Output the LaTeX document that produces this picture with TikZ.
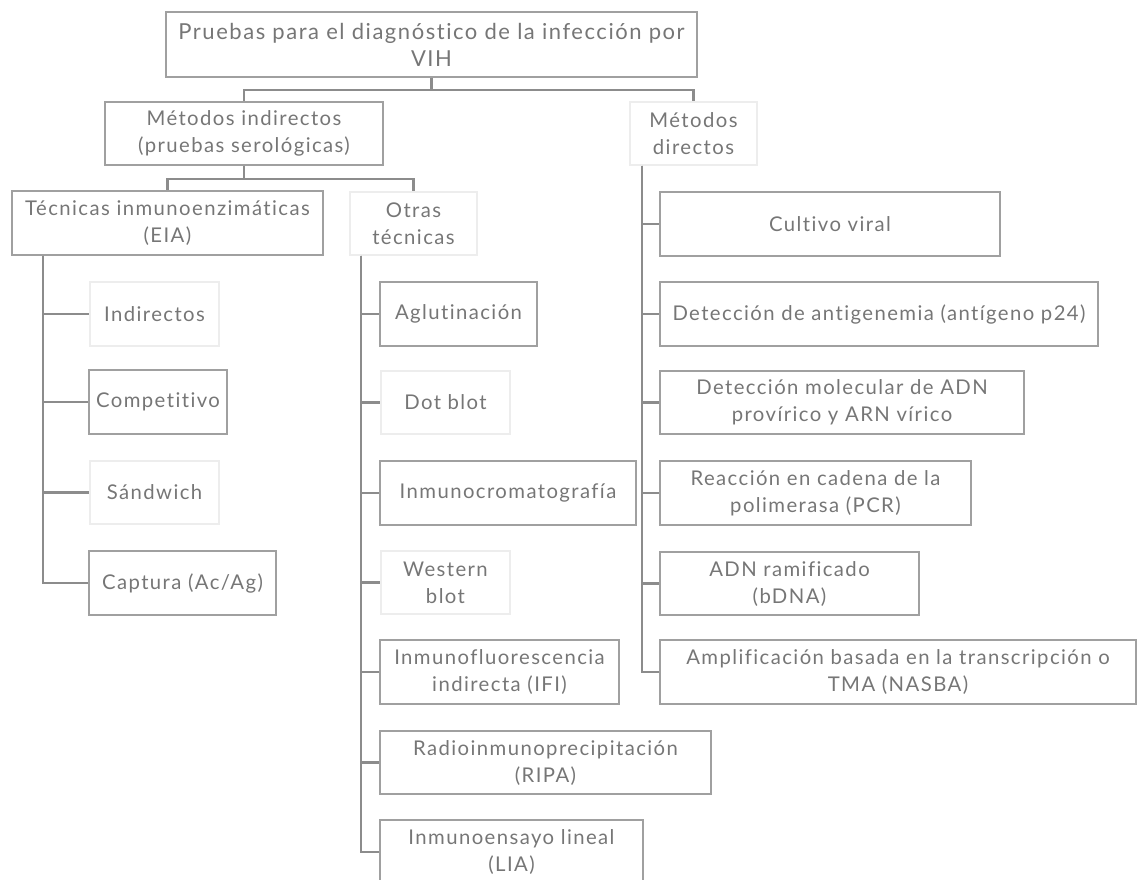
\documentclass[tikz,border=0pt]{standalone}
\usepackage{fontspec}
\setmainfont{Lato}[LetterSpace=7,Ligatures=NoCommon]
\usepackage{xcolor}
\usepackage{tikz}
\usetikzlibrary{calc}
\usetikzlibrary{positioning}

\definecolor{textgray}{RGB}{118,118,118}
\definecolor{boxgray}{RGB}{160,160,160}
\definecolor{linegray}{RGB}{140,140,140}

\begin{document}
\begin{tikzpicture}[x=1pt,y=-1pt,
	box/.style={draw=boxgray,line width=1.8pt,inner sep=0pt,align=center,text=textgray,
		font=\fontsize{20.3}{27}\selectfont,minimum height=64pt},
	faint/.style={box,draw=black!7},
	link/.style={draw=linegray,line width=2.6pt}]
	\useasboundingbox (0,0) rectangle (1137,879);
	% top and first level
	\node[box,minimum width=531pt,minimum height=65pt,font=\fontsize{22}{27}\selectfont] (top) at (431.5,44.5) {Pruebas para el diagnóstico de la infección por\\VIH};
	\node[box,minimum width=278pt,minimum height=63pt] (ind) at (244,133.5) {Métodos indirectos\\(pruebas serológicas)};
	\node[faint,minimum width=127pt,minimum height=63pt] (dir) at (693.5,133.5) {Métodos\\directos};
	\node[box,minimum width=311pt] (eia) at (167.5,223) {Técnicas inmunoenzimáticas\\(EIA)};
	\node[faint,minimum width=127pt,minimum height=63pt] (otras) at (413.5,223.5) {Otras\\técnicas};
	% EIA
	\node[faint,minimum width=129pt] (indi) at (154.5,314) {Indirectos};
	\node[box,minimum width=138pt] (comp) at (158,402) {Competitivo};
	\node[faint,minimum width=129pt,minimum height=63pt] (sand) at (154.5,492.5) {Sándwich};
	\node[box,minimum width=187pt] (capt) at (182.5,583) {Captura (Ac/Ag)};
	% otras tecnicas
	\node[box,minimum width=157pt] (aglu) at (458.5,314) {Aglutinación};
	\node[faint,minimum width=129pt,minimum height=63pt] (dot) at (445.5,402.5) {Dot blot};
	\node[box,minimum width=256pt] (inmc) at (508,493) {Inmunocromatografía};
	\node[faint,minimum width=129pt,minimum height=63pt] (west) at (445.5,582.5) {Western\\blot};
	\node[box,minimum width=239pt] (ifi) at (499.5,672) {Inmunofluorescencia\\indirecta (IFI)};
	\node[box,minimum width=331pt,minimum height=63pt] (ripa) at (545.5,762.5) {Radioinmunoprecipitación\\(RIPA)};
	\node[box,minimum width=263pt] (lia) at (511.5,852) {Inmunoensayo lineal\\(LIA)};
	% metodos directos
	\node[box,minimum width=340pt] (cult) at (830,224) {Cultivo viral};
	\node[box,minimum width=438pt] (anti) at (879,314) {Detección de antigenemia (antígeno p24)};
	\node[box,minimum width=364pt,minimum height=63pt] (mol) at (842,402.5) {Detección molecular de ADN\\provírico y ARN vírico};
	\node[box,minimum width=311pt] (pcr) at (815.5,493) {Reacción en cadena de la\\polimerasa (PCR)};
	\node[box,minimum width=259pt,minimum height=63pt] (bdna) at (789.5,583.5) {ADN ramificado\\(bDNA)};
	\node[box,minimum width=476pt] (tma) at (898,672) {Amplificación basada en la transcripción o\\TMA (NASBA)};
	% connectors
	\draw[link] (top.south) -- ++(0,12) -| (ind.north);
	\draw[link] (top.south) -- ++(0,12) -| (dir.north);
	\draw[link] (ind.south) -- ++(0,13) -| (eia.north);
	\draw[link] (ind.south) -- ++(0,13) -| (otras.north);
	\foreach \c in {indi,comp,sand,capt}
		\draw[link] ([xshift=32pt]eia.south west) |- (\c.west);
	\foreach \c in {aglu,dot,inmc,west,ifi,ripa,lia}
		\draw[link] ([xshift=12pt]otras.south west) |- (\c.west);
	\foreach \c in {cult,anti,mol,pcr,bdna,tma}
		\draw[link] ([xshift=13pt]dir.south west) |- (\c.west);
\end{tikzpicture}
\end{document}
